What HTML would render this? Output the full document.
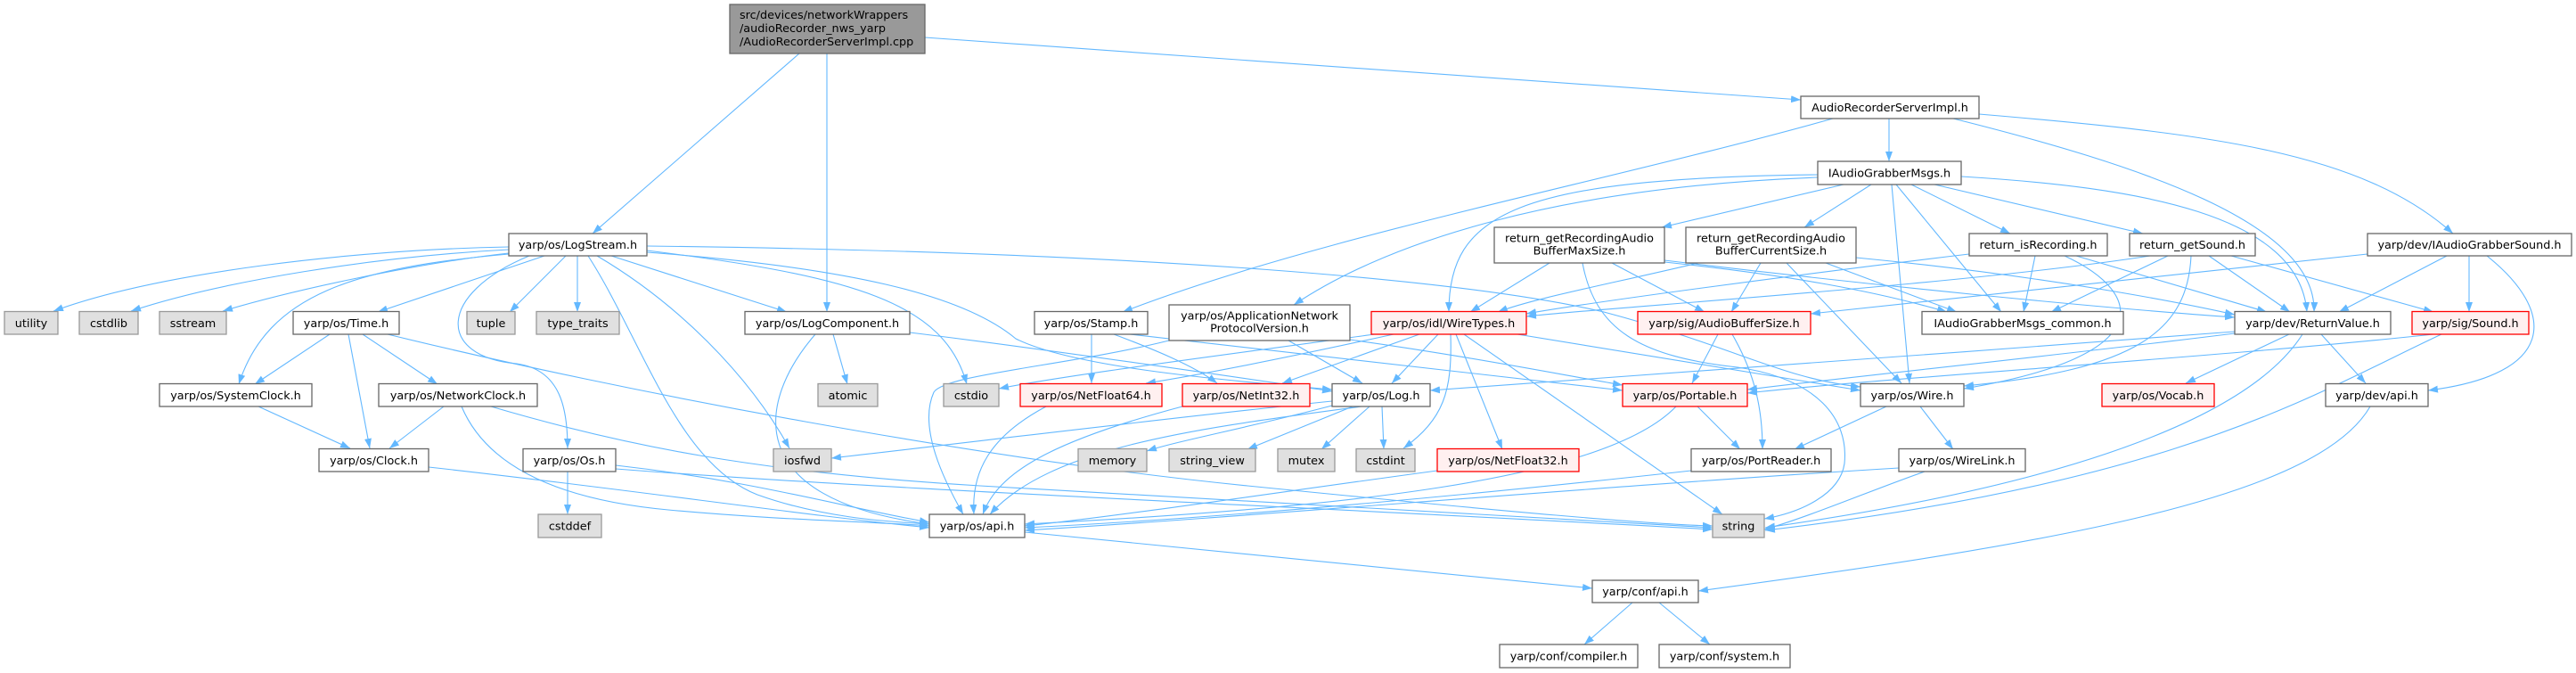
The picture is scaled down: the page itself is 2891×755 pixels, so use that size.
<!DOCTYPE html>
<html>
<head>
<meta charset="utf-8">
<style>
html,body{margin:0;padding:0;background:#fff;}
svg{display:block;}
text{font-family:"DejaVu Sans","Liberation Sans",sans-serif;font-size:12.8px;fill:#000;}
.e{fill:none;stroke:#63b8ff;stroke-width:1.1;marker-end:url(#a);}
.w{fill:#fff;stroke:#666;stroke-width:1.3;}
.g{fill:#e0e0e0;stroke:#999;stroke-width:1.3;}
.r{fill:#fff0f0;stroke:#ff0000;stroke-width:1.3;}
.h{fill:#999;stroke:#666;stroke-width:1.3;}
</style>
</head>
<body>
<svg width="2891" height="755" viewBox="0 0 2891 755" xmlns="http://www.w3.org/2000/svg">
<defs>
<marker id="a" viewBox="0 0 11 8" refX="11" refY="4" markerWidth="11" markerHeight="8" orient="auto" markerUnits="userSpaceOnUse"><path d="M0,0L11,4L0,8z" fill="#63b8ff"/></marker>
</defs>
<g>
<!-- header edges -->
<path class="e" d="M897,60 L665,262"/>
<path class="e" d="M928,60 L928,350"/>
<path class="e" d="M1038,42 L2021,112"/>
<!-- AudioRecorderServerImpl.h -->
<path class="e" d="M2120,133 L2120,181"/>
<path class="e" d="M2057,133 C1800,205 1480,265 1260,350"/>
<path class="e" d="M2192,133 C2400,185 2600,250 2597,350"/>
<path class="e" d="M2221,128 C2480,150 2650,170 2753,262"/>
<!-- IAudioGrabberMsgs.h -->
<path class="e" d="M2069,207 L1865,255"/>
<path class="e" d="M2100,207 L2025,255"/>
<path class="e" d="M2145,207 L2256,262"/>
<path class="e" d="M2171,207 L2405,262"/>
<path class="e" d="M2201,198 C2400,210 2580,240 2589,350"/>
<path class="e" d="M2128,207 L2246,350"/>
<path class="e" d="M2123,207 L2143,430"/>
<path class="e" d="M2040,196 C1700,200 1626,240 1626,350"/>
<path class="e" d="M2040,199 C1750,210 1560,270 1452,342"/>
<!-- MaxSize -->
<path class="e" d="M1739,295 L1650,350"/>
<path class="e" d="M1809,295 L1913,350"/>
<path class="e" d="M1776,295 C1790,370 1840,400 1950,412 C2040,425 2075,470 2070,520 C2065,555 2020,575 1980,582"/>
<path class="e" d="M1868,292 C2100,320 2350,345 2508,356"/>
<path class="e" d="M1868,294 C2000,308 2100,325 2185,350"/>
<!-- CurrentSize -->
<path class="e" d="M1906,295 C1800,320 1720,335 1681,350"/>
<path class="e" d="M1976,295 L1943,350"/>
<path class="e" d="M2005,295 L2134,430"/>
<path class="e" d="M2083,289 C2300,310 2450,340 2508,353"/>
<path class="e" d="M2049,295 L2196,350"/>
<!-- return_isRecording -->
<path class="e" d="M2210,285 C2000,310 1780,340 1713,352"/>
<path class="e" d="M2284,287 L2271,350"/>
<path class="e" d="M2330,287 L2544,350"/>
<path class="e" d="M2317,287 C2410,330 2420,400 2204,436"/>
<!-- return_getSound -->
<path class="e" d="M2413,287 C2200,320 1800,345 1713,355"/>
<path class="e" d="M2433,287 L2302,350"/>
<path class="e" d="M2459,287 C2455,370 2400,415 2204,433"/>
<path class="e" d="M2479,287 L2570,350"/>
<path class="e" d="M2504,287 L2731,350"/>
<!-- IAudioGrabberSound -->
<path class="e" d="M2746,287 L2625,350"/>
<path class="e" d="M2771,287 L2771,350"/>
<path class="e" d="M2791,287 C2870,350 2870,420 2725,438"/>
<path class="e" d="M2657,285 L2032,352"/>
<!-- LogStream -->
<path class="e" d="M571,277 C400,280 180,305 60,349"/>
<path class="e" d="M571,280 C420,288 250,315 147,349"/>
<path class="e" d="M571,284 C470,295 330,325 250,349"/>
<path class="e" d="M611,287 L424,350"/>
<path class="e" d="M571,285 C400,300 300,330 268,431"/>
<path class="e" d="M594,287 C490,330 490,400 580,408 C630,415 637,460 637,503"/>
<path class="e" d="M635,287 L572,350"/>
<path class="e" d="M648,287 L648,350"/>
<path class="e" d="M660,287 C720,380 760,520 850,555 C920,580 990,585 1043,588"/>
<path class="e" d="M670,287 C760,340 840,420 886,503"/>
<path class="e" d="M686,287 L883,350"/>
<path class="e" d="M726,281 C960,310 1060,340 1085,431"/>
<path class="e" d="M726,283 C950,300 1080,330 1140,380 C1200,410 1350,425 1495,437"/>
<path class="e" d="M726,276 C1300,283 1650,315 1800,350 C1950,390 2000,425 2088,434"/>
<!-- Time -->
<path class="e" d="M370,375 L286,431"/>
<path class="e" d="M391,375 L415,503"/>
<path class="e" d="M407,375 L491,431"/>
<path class="e" d="M435,375 C700,440 1100,515 1400,545 C1700,575 1850,588 1922,590"/>
<!-- Clocks -->
<path class="e" d="M290,456 L393,503"/>
<path class="e" d="M498,456 L437,503"/>
<path class="e" d="M518,456 C545,520 620,560 750,572 C880,584 980,585 1043,590"/>
<path class="e" d="M551,456 C700,500 850,530 1100,545 C1500,570 1800,585 1922,592"/>
<path class="e" d="M481,524 C700,548 900,578 1043,592"/>
<!-- Os -->
<path class="e" d="M637,529 L637,577"/>
<path class="e" d="M691,522 C850,540 950,570 1043,586"/>
<path class="e" d="M691,526 C1000,550 1500,570 1922,594"/>
<!-- LogComponent -->
<path class="e" d="M935,375 L951,431"/>
<path class="e" d="M915,375 C850,450 830,560 1043,588"/>
<path class="e" d="M1021,373 C1200,395 1400,425 1495,439"/>
<!-- Stamp -->
<path class="e" d="M1225,375 L1225,430"/>
<path class="e" d="M1250,375 C1290,390 1340,410 1366,430"/>
<path class="e" d="M1268,375 C1500,400 1700,425 1821,438"/>
<!-- AppNet -->
<path class="e" d="M1312,382 C1200,410 1060,420 1048,440 C1030,480 1060,540 1081,577"/>
<path class="e" d="M1446,382 L1529,430"/>
<path class="e" d="M1515,381 C1650,400 1750,420 1821,432"/>
<!-- WireTypes -->
<path class="e" d="M1564,375 C1450,400 1350,420 1286,430"/>
<path class="e" d="M1542,375 C1400,395 1200,420 1121,436"/>
<path class="e" d="M1593,375 L1439,430"/>
<path class="e" d="M1614,375 L1562,430"/>
<path class="e" d="M1628,375 C1630,440 1620,470 1575,503"/>
<path class="e" d="M1634,375 L1686,504"/>
<path class="e" d="M1643,375 L1933,577"/>
<path class="e" d="M1703,375 L2088,438"/>
<!-- AudioBufferSize -->
<path class="e" d="M1928,375 L1899,430"/>
<path class="e" d="M1944,375 C1970,420 1978,460 1978,504"/>
<!-- ReturnValue -->
<path class="e" d="M2569,375 L2453,430"/>
<path class="e" d="M2605,375 L2655,430"/>
<path class="e" d="M2584,375 C2530,460 2350,540 1981,592"/>
<path class="e" d="M2508,372 C2200,395 1800,425 1605,438"/>
<path class="e" d="M2508,374 C2300,400 2100,420 1961,437"/>
<!-- Sound -->
<path class="e" d="M2731,375 C2500,400 2100,425 1961,441"/>
<path class="e" d="M2740,375 C2600,440 2450,540 1981,595"/>
<!-- dev/api -->
<path class="e" d="M2660,456 C2600,560 2300,610 1906,663"/>
<!-- Log -->
<path class="e" d="M1537,456 L1483,504"/>
<path class="e" d="M1551,456 L1553,504"/>
<path class="e" d="M1495,455 C1400,480 1320,495 1287,506"/>
<path class="e" d="M1518,456 L1400,504"/>
<path class="e" d="M1495,450 C1300,470 1100,495 933,514"/>
<path class="e" d="M1528,456 C1350,480 1180,500 1111,577"/>
<!-- Portable / PortReader / Wire / WireLink -->
<path class="e" d="M1905,456 L1953,504"/>
<path class="e" d="M1881,456 C1800,540 1500,570 1150,588"/>
<path class="e" d="M1898,528 C1700,550 1400,580 1150,592"/>
<path class="e" d="M2117,456 L2014,504"/>
<path class="e" d="M2155,456 L2192,504"/>
<path class="e" d="M2131,525 C1800,545 1400,580 1150,595"/>
<path class="e" d="M2160,529 C2100,550 2030,580 1980,594"/>
<!-- conf -->
<path class="e" d="M1832,676 L1778,723"/>
<path class="e" d="M1862,676 L1919,723"/>
<path class="e" d="M1150,597 L1787,660"/>
<!-- Net* -->
<path class="e" d="M1174,456 C1110,490 1090,530 1093,577"/>
<path class="e" d="M1327,456 C1180,495 1120,530 1103,577"/>
<path class="e" d="M1613,528 C1450,550 1250,580 1150,590"/>
</g>

<g>
<!-- Header -->
<rect class="h" x="819" y="5" width="219" height="55"/>
<text x="830" y="21">src/devices/networkWrappers</text>
<text x="830" y="36">/audioRecorder_nws_yarp</text>
<text x="830" y="51">/AudioRecorderServerImpl.cpp</text>

<rect class="w" x="2021" y="108" width="200" height="25"/>
<text x="2121" y="125" text-anchor="middle">AudioRecorderServerImpl.h</text>

<rect class="w" x="2040" y="181" width="161" height="26"/>
<text x="2120.5" y="198.5" text-anchor="middle">IAudioGrabberMsgs.h</text>

<rect class="w" x="571" y="262" width="155" height="25"/>
<text x="648.5" y="279" text-anchor="middle">yarp/os/LogStream.h</text>

<rect class="w" x="1677" y="255" width="191" height="40"/>
<text x="1772.5" y="271.5" text-anchor="middle">return_getRecordingAudio</text>
<text x="1772.5" y="285.5" text-anchor="middle">BufferMaxSize.h</text>

<rect class="w" x="1892" y="255" width="191" height="40"/>
<text x="1987.5" y="271.5" text-anchor="middle">return_getRecordingAudio</text>
<text x="1987.5" y="285.5" text-anchor="middle">BufferCurrentSize.h</text>

<rect class="w" x="2210" y="262" width="155" height="25"/>
<text x="2287.5" y="279" text-anchor="middle">return_isRecording.h</text>

<rect class="w" x="2390" y="262" width="141" height="25"/>
<text x="2460.5" y="279" text-anchor="middle">return_getSound.h</text>

<rect class="w" x="2657" y="262" width="229" height="25"/>
<text x="2771.5" y="279" text-anchor="middle">yarp/dev/IAudioGrabberSound.h</text>

<!-- row 4 -->
<rect class="g" x="5" y="349.5" width="60" height="25.5"/>
<text x="35" y="367" text-anchor="middle">utility</text>
<rect class="g" x="89" y="349.5" width="66" height="25.5"/>
<text x="122" y="367" text-anchor="middle">cstdlib</text>
<rect class="g" x="179" y="349.5" width="75" height="25.5"/>
<text x="216.5" y="367" text-anchor="middle">sstream</text>
<rect class="w" x="329" y="349.5" width="119" height="25.5"/>
<text x="388.5" y="367" text-anchor="middle">yarp/os/Time.h</text>
<rect class="g" x="524" y="349.5" width="54" height="25.5"/>
<text x="551" y="367" text-anchor="middle">tuple</text>
<rect class="g" x="602" y="349.5" width="93" height="25.5"/>
<text x="648.5" y="367" text-anchor="middle">type_traits</text>
<rect class="w" x="836" y="349.5" width="185" height="25.5"/>
<text x="928.5" y="367" text-anchor="middle">yarp/os/LogComponent.h</text>
<rect class="w" x="1161" y="349.5" width="127" height="25.5"/>
<text x="1224.5" y="367" text-anchor="middle">yarp/os/Stamp.h</text>
<rect class="w" x="1312" y="342" width="203" height="40"/>
<text x="1413.5" y="358.5" text-anchor="middle">yarp/os/ApplicationNetwork</text>
<text x="1413.5" y="372.5" text-anchor="middle">ProtocolVersion.h</text>
<rect class="r" x="1539" y="349.5" width="174" height="25.5"/>
<text x="1626" y="367" text-anchor="middle">yarp/os/idl/WireTypes.h</text>
<rect class="r" x="1838" y="349.5" width="194" height="25.5"/>
<text x="1935" y="367" text-anchor="middle">yarp/sig/AudioBufferSize.h</text>
<rect class="w" x="2157" y="349.5" width="226" height="25.5"/>
<text x="2270" y="367" text-anchor="middle">IAudioGrabberMsgs_common.h</text>
<rect class="w" x="2508" y="349.5" width="175" height="25.5"/>
<text x="2595.5" y="367" text-anchor="middle">yarp/dev/ReturnValue.h</text>
<rect class="r" x="2707" y="349.5" width="131" height="25.5"/>
<text x="2772.5" y="367" text-anchor="middle">yarp/sig/Sound.h</text>

<!-- row 5 -->
<rect class="w" x="179" y="430.5" width="171" height="25.5"/>
<text x="264.5" y="448" text-anchor="middle">yarp/os/SystemClock.h</text>
<rect class="w" x="425" y="430.5" width="178" height="25.5"/>
<text x="514" y="448" text-anchor="middle">yarp/os/NetworkClock.h</text>
<rect class="g" x="918" y="430.5" width="67" height="25.5"/>
<text x="951.5" y="448" text-anchor="middle">atomic</text>
<rect class="g" x="1059" y="430.5" width="62" height="25.5"/>
<text x="1090" y="448" text-anchor="middle">cstdio</text>
<rect class="r" x="1145" y="430.5" width="159" height="25.5"/>
<text x="1224.5" y="448" text-anchor="middle">yarp/os/NetFloat64.h</text>
<rect class="r" x="1327" y="430.5" width="143" height="25.5"/>
<text x="1398.5" y="448" text-anchor="middle">yarp/os/NetInt32.h</text>
<rect class="w" x="1495" y="430.5" width="110" height="25.5"/>
<text x="1550" y="448" text-anchor="middle">yarp/os/Log.h</text>
<rect class="r" x="1821" y="430.5" width="140" height="25.5"/>
<text x="1891" y="448" text-anchor="middle">yarp/os/Portable.h</text>
<rect class="w" x="2088" y="430.5" width="116" height="25.5"/>
<text x="2146" y="448" text-anchor="middle">yarp/os/Wire.h</text>
<rect class="r" x="2359" y="430.5" width="126" height="25.5"/>
<text x="2422" y="448" text-anchor="middle">yarp/os/Vocab.h</text>
<rect class="w" x="2610" y="430.5" width="115" height="25.5"/>
<text x="2667.5" y="448" text-anchor="middle">yarp/dev/api.h</text>

<!-- row 6 -->
<rect class="w" x="358" y="503.5" width="123" height="25.5"/>
<text x="419.5" y="521" text-anchor="middle">yarp/os/Clock.h</text>
<rect class="w" x="587" y="503.5" width="104" height="25.5"/>
<text x="639" y="521" text-anchor="middle">yarp/os/Os.h</text>
<rect class="g" x="868" y="503.5" width="65" height="25.5"/>
<text x="900.5" y="521" text-anchor="middle">iosfwd</text>
<rect class="g" x="1210" y="503.5" width="77" height="25.5"/>
<text x="1248.5" y="521" text-anchor="middle">memory</text>
<rect class="g" x="1312" y="503.5" width="97" height="25.5"/>
<text x="1360.5" y="521" text-anchor="middle">string_view</text>
<rect class="g" x="1434" y="503.5" width="64" height="25.5"/>
<text x="1466" y="521" text-anchor="middle">mutex</text>
<rect class="g" x="1522" y="503.5" width="66" height="25.5"/>
<text x="1555" y="521" text-anchor="middle">cstdint</text>
<rect class="r" x="1613" y="503.5" width="159" height="25.5"/>
<text x="1692.5" y="521" text-anchor="middle">yarp/os/NetFloat32.h</text>
<rect class="w" x="1898" y="503.5" width="157" height="25.5"/>
<text x="1976.5" y="521" text-anchor="middle">yarp/os/PortReader.h</text>
<rect class="w" x="2131" y="503.5" width="142" height="25.5"/>
<text x="2202" y="521" text-anchor="middle">yarp/os/WireLink.h</text>

<!-- row 7 -->
<rect class="g" x="604" y="577" width="71" height="26"/>
<text x="639.5" y="594.5" text-anchor="middle">cstddef</text>
<rect class="w" x="1043" y="577" width="107" height="26"/>
<text x="1096.5" y="594.5" text-anchor="middle">yarp/os/api.h</text>
<rect class="g" x="1922" y="577" width="58" height="26"/>
<text x="1951" y="594.5" text-anchor="middle">string</text>

<!-- row 8/9 -->
<rect class="w" x="1787" y="651" width="119" height="25"/>
<text x="1846.5" y="668" text-anchor="middle">yarp/conf/api.h</text>
<rect class="w" x="1683" y="723" width="155" height="26"/>
<text x="1760.5" y="740.5" text-anchor="middle">yarp/conf/compiler.h</text>
<rect class="w" x="1862" y="723" width="147" height="26"/>
<text x="1935.5" y="740.5" text-anchor="middle">yarp/conf/system.h</text>
</g>
</svg>
</body>
</html>
